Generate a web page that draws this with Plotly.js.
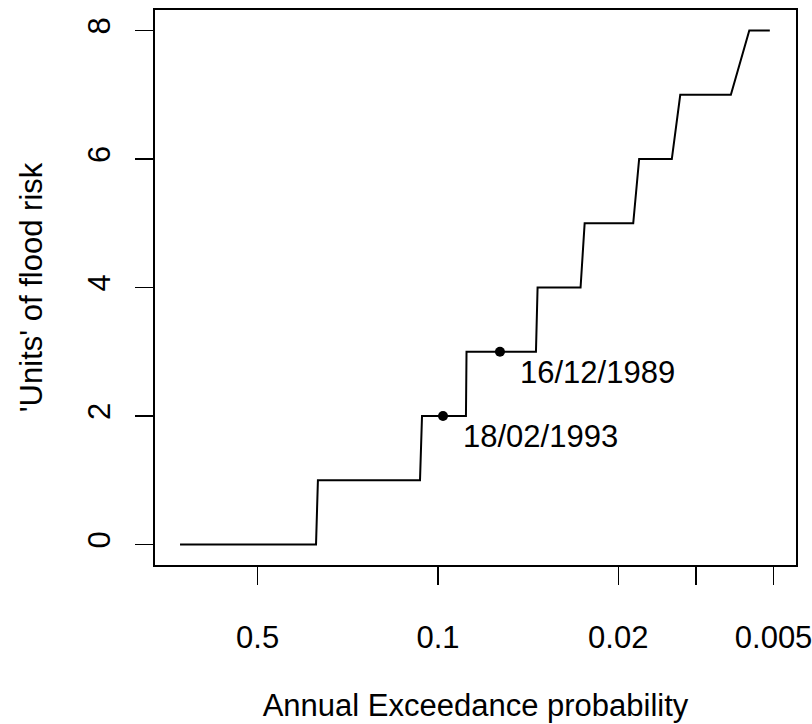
<!DOCTYPE html>
<html>
<head>
<meta charset="utf-8">
<script src="https://cdn.plot.ly/plotly-3.0.1.min.js"></script>
<style>
html,body{margin:0;padding:0;background:#fff;}
#chart{width:812px;height:724px;}
</style>
</head>
<body>
<div id="chart"></div>
<script>
// Step curve: annual exceedance probability vs 'units' of flood risk
var aep   = [1.0, 0.297, 0.292, 0.1174, 0.1153, 0.0779, 0.0775, 0.0417, 0.0411, 0.0280, 0.0270, 0.0175, 0.0166, 0.0124, 0.0115, 0.00732, 0.00621, 0.00517];
var units = [0, 0, 1, 1, 2, 2, 3, 3, 4, 4, 5, 5, 6, 6, 7, 7, 8, 8];

// Historic events
var eventLabels = ['18/02/1993', '16/12/1989'];
var eventAep    = [0.0956, 0.0575];
var eventUnits  = [2, 3];

// Axis ticks
var xTickVals = [0.5, 0.1, 0.02, 0.01, 0.005];
var xTickText = ['0.5', '0.1', '0.02', '', '0.005'];
var yTickVals = [0, 2, 4, 6, 8];

var FONT = 'Liberation Sans, Arial, Helvetica, sans-serif';
var FS = 31;

var traces = [
  {x: aep, y: units, type: 'scatter', mode: 'lines',
   line: {color: '#000', width: 2}, hoverinfo: 'skip', showlegend: false},
  {x: eventAep, y: eventUnits, type: 'scatter', mode: 'markers',
   marker: {color: '#000', size: 10}, showlegend: false}
];

var annotations = eventLabels.map(function(t, i){
  return {x: Math.log10(eventAep[i]), y: eventUnits[i], xref: 'x', yref: 'y',
    text: t, showarrow: false, xanchor: 'left', yanchor: 'top',
    xshift: 18, yshift: -1, font: {family: FONT, size: FS, color: '#000'}};
});

var layout = {
  width: 812, height: 724,
  margin: {l: 155, r: 16, t: 10, b: 159, pad: 0},
  paper_bgcolor: '#fff', plot_bgcolor: '#fff',
  font: {family: FONT, size: FS, color: '#000'},
  showlegend: false,
  xaxis: {
    type: 'log', range: [0.097, -2.388], autorange: false,
    tickvals: xTickVals, ticktext: xTickText,
    ticks: 'outside', ticklen: 18, tickwidth: 1.5, tickcolor: '#000',
    ticklabelstandoff: 26, ticklabeloverflow: 'allow',
    showline: true, mirror: true, linecolor: '#000', linewidth: 2,
    showgrid: false, zeroline: false,
    tickfont: {family: FONT, size: FS, color: '#000'},
    title: {text: 'Annual Exceedance probability', standoff: 40,
            font: {family: FONT, size: FS, color: '#000'}}
  },
  yaxis: {
    range: [-0.32, 8.32], autorange: false,
    tickvals: yTickVals, tickangle: -90,
    ticks: 'outside', ticklen: 18, tickwidth: 1.5, tickcolor: '#000',
    ticklabelstandoff: 13,
    showline: true, mirror: true, linecolor: '#000', linewidth: 2,
    showgrid: false, zeroline: false,
    tickfont: {family: FONT, size: FS, color: '#000'},
    title: {text: "'Units' of flood risk", standoff: 30,
            font: {family: FONT, size: FS, color: '#000'}}
  },
  annotations: annotations
};

Plotly.newPlot('chart', traces, layout, {staticPlot: true, displayModeBar: false});
</script>
</body>
</html>
